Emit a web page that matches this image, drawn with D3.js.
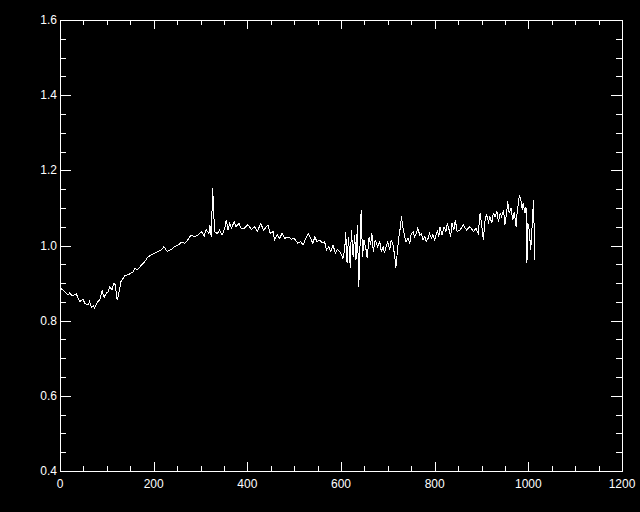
<!DOCTYPE html>
<html lang="en">
  <head>
    <meta charset="UTF-8" />
    <title>Spectrum</title>
    <script src="https://d3js.org/d3.v7.min.js"></script>
    <style>
      body {
        margin: 0;
        padding: 0;
        background-color: #000;
      }
      svg text {
        font-family: "Liberation Sans", Arial, sans-serif;
        font-size: 12px;
        fill: #fff;
      }
    </style>
  </head>
  <body>
    <div id="chart"></div>

    <script>
      // data
      const xVals = [
        2, 10, 17, 21, 26, 35, 42, 49, 53, 60, 63, 67, 71, 74, 78, 81, 85, 90, 94, 99,
        103, 106, 111, 115, 118, 122, 125, 130, 135, 138, 145, 151, 156, 160, 165, 174, 181, 188, 195, 202,
        209, 216, 222, 229, 238, 245, 252, 259, 266, 273, 280, 288, 295, 302, 308, 312, 318, 320, 323, 326,
        330, 336, 341, 346, 352, 355, 359, 362, 366, 372, 376, 382, 387, 394, 401, 409, 416, 421, 429, 434,
        438, 444, 449, 455, 458, 464, 469, 474, 480, 487, 494, 500, 505, 508, 514, 519, 524, 530, 535, 540,
        544, 549, 555, 559, 565, 569, 574, 578, 583, 588, 592, 597, 601, 604, 608, 610, 613, 616, 620, 622,
        626, 629, 632, 635, 638, 641, 643, 646, 649, 653, 656, 660, 663, 666, 669, 673, 678, 683, 686, 690,
        693, 697, 700, 704, 707, 711, 715, 717, 720, 723, 727, 729, 732, 736, 739, 743, 747, 750, 754, 757,
        761, 764, 768, 772, 775, 779, 782, 786, 789, 793, 796, 800, 806, 809, 811, 816, 820, 824, 827, 831,
        834, 837, 841, 844, 848, 854, 861, 868, 875, 883, 888, 893, 897, 900, 904, 908, 911, 915, 918, 922,
        925, 929, 933, 936, 940, 943, 947, 950, 954, 956, 959, 963, 967, 970, 974, 976, 981, 984, 987, 989,
        993, 995, 997, 999, 1002, 1005, 1008, 1011, 1012, 1014
      ];
      const yVals = [
        0.886, 0.877, 0.868, 0.874, 0.866, 0.871, 0.851, 0.857, 0.846, 0.842, 0.851, 0.836, 0.839, 0.833, 0.846, 0.851, 0.855, 0.880, 0.862, 0.873,
        0.877, 0.890, 0.882, 0.899, 0.895, 0.855, 0.868, 0.904, 0.913, 0.919, 0.922, 0.926, 0.930, 0.939, 0.935, 0.948, 0.957, 0.970, 0.975, 0.979,
        0.984, 0.988, 0.997, 0.984, 0.990, 0.997, 1.001, 1.008, 1.006, 1.015, 1.028, 1.023, 1.028, 1.037, 1.025, 1.043, 1.032, 1.055, 1.023, 1.153,
        1.037, 1.032, 1.041, 1.028, 1.046, 1.068, 1.041, 1.059, 1.046, 1.063, 1.050, 1.059, 1.046, 1.046, 1.055, 1.043, 1.050, 1.037, 1.059, 1.041,
        1.046, 1.055, 1.032, 1.037, 1.015, 1.028, 1.019, 1.032, 1.019, 1.023, 1.017, 1.019, 1.010, 1.006, 1.010, 1.001, 1.017, 1.032, 1.019, 1.006,
        1.023, 1.010, 1.015, 1.008, 1.010, 0.988, 0.997, 0.984, 1.001, 0.979, 0.990, 0.984, 0.975, 0.966, 0.988, 1.037, 0.953, 1.023, 0.939, 1.041,
        0.970, 1.028, 0.962, 1.055, 0.890, 1.015, 1.095, 0.970, 1.015, 0.993, 0.966, 1.023, 1.001, 1.032, 0.984, 1.015, 0.997, 1.010, 0.984, 0.997,
        0.979, 1.001, 1.010, 0.988, 1.015, 1.001, 0.970, 0.939, 0.979, 1.019, 1.050, 1.078, 1.050, 1.023, 1.010, 1.019, 1.006, 1.032, 1.037, 1.023,
        1.032, 1.046, 1.028, 1.032, 1.015, 1.023, 1.010, 1.019, 1.032, 1.019, 1.028, 1.015, 1.041, 1.023, 1.050, 1.028, 1.050, 1.037, 1.059, 1.041,
        1.023, 1.059, 1.041, 1.068, 1.037, 1.041, 1.055, 1.041, 1.050, 1.037, 1.046, 1.032, 1.086, 1.059, 1.015, 1.072, 1.081, 1.063, 1.077, 1.059,
        1.086, 1.077, 1.090, 1.063, 1.086, 1.077, 1.095, 1.055, 1.090, 1.117, 1.086, 1.099, 1.068, 1.090, 1.050, 1.086, 1.134, 1.121, 1.095, 1.112,
        1.086, 1.103, 0.953, 1.059, 1.041, 0.988, 1.050, 1.121, 1.068, 0.962
      ];
      const xTicks = [0, 200, 400, 600, 800, 1000, 1200];
      const yTicks = [0.4, 0.6, 0.8, 1.0, 1.2, 1.4, 1.6];

      const width = 640;
      const height = 512;
      const plotL = 60, plotR = 622, plotT = 20, plotB = 471;

      const svg = d3.select("#chart").append("svg").attr("width", width).attr("height", height).style("display", "block");
      svg.append("rect").attr("width", width).attr("height", height).attr("fill", "#000");

      const x = d3.scaleLinear().domain([0, 1200]).range([plotL, plotR]);
      const y = d3.scaleLinear().domain([0.4, 1.6]).range([plotB, plotT]);

      const xMinor = d3.range(0, 1201, 50).filter((v) => v % 200 !== 0);
      const yMinor = d3.range(0.45, 1.6, 0.05).filter((v) => Math.abs(v * 5 - Math.round(v * 5)) > 1e-6);

      function styleAxis(g) {
        g.selectAll(".domain").remove();
        g.selectAll("line").attr("stroke", "#fff").attr("shape-rendering", "crispEdges");
      }

      // bottom / top
      svg.append("g").attr("transform", `translate(0,${plotB})`)
        .call(d3.axisTop(x).tickValues(xTicks).tickSize(9).tickFormat(""))
        .call(styleAxis);
      svg.append("g").attr("transform", `translate(0,${plotB})`)
        .call(d3.axisTop(x).tickValues(xMinor).tickSize(5).tickFormat(""))
        .call(styleAxis);
      svg.append("g").attr("transform", `translate(0,${plotT})`)
        .call(d3.axisBottom(x).tickValues(xTicks).tickSize(9).tickFormat(""))
        .call(styleAxis);
      svg.append("g").attr("transform", `translate(0,${plotT})`)
        .call(d3.axisBottom(x).tickValues(xMinor).tickSize(5).tickFormat(""))
        .call(styleAxis);

      // left / right
      svg.append("g").attr("transform", `translate(${plotL},0)`)
        .call(d3.axisRight(y).tickValues(yTicks).tickSize(11).tickFormat(""))
        .call(styleAxis);
      svg.append("g").attr("transform", `translate(${plotL},0)`)
        .call(d3.axisRight(y).tickValues(yMinor).tickSize(6).tickFormat(""))
        .call(styleAxis);
      svg.append("g").attr("transform", `translate(${plotR},0)`)
        .call(d3.axisLeft(y).tickValues(yTicks).tickSize(11).tickFormat(""))
        .call(styleAxis);
      svg.append("g").attr("transform", `translate(${plotR},0)`)
        .call(d3.axisLeft(y).tickValues(yMinor).tickSize(6).tickFormat(""))
        .call(styleAxis);

      // frame
      svg.append("rect")
        .attr("x", plotL + 0.5).attr("y", plotT + 0.5)
        .attr("width", plotR - plotL).attr("height", plotB - plotT)
        .attr("fill", "none").attr("stroke", "#fff").attr("stroke-width", 1);

      // tick labels
      svg.selectAll(".xlab").data(xTicks).enter().append("text")
        .attr("x", (d) => x(d)).attr("y", plotB + 17)
        .attr("text-anchor", "middle").text((d) => d);
      svg.selectAll(".ylab").data(yTicks).enter().append("text")
        .attr("x", plotL - 3).attr("y", (d) => y(d) + 4)
        .attr("text-anchor", "end").text((d) => d3.format(".1f")(d));

      const data = xVals.map((v, i) => [v, yVals[i]]);
      const line = d3.line().x((d) => x(d[0])).y((d) => y(d[1]));
      svg.append("path").datum(data).attr("d", line)
        .attr("fill", "none").attr("stroke", "#fff").attr("stroke-width", 1)
        .attr("shape-rendering", "crispEdges");
    </script>
  </body>
</html>
